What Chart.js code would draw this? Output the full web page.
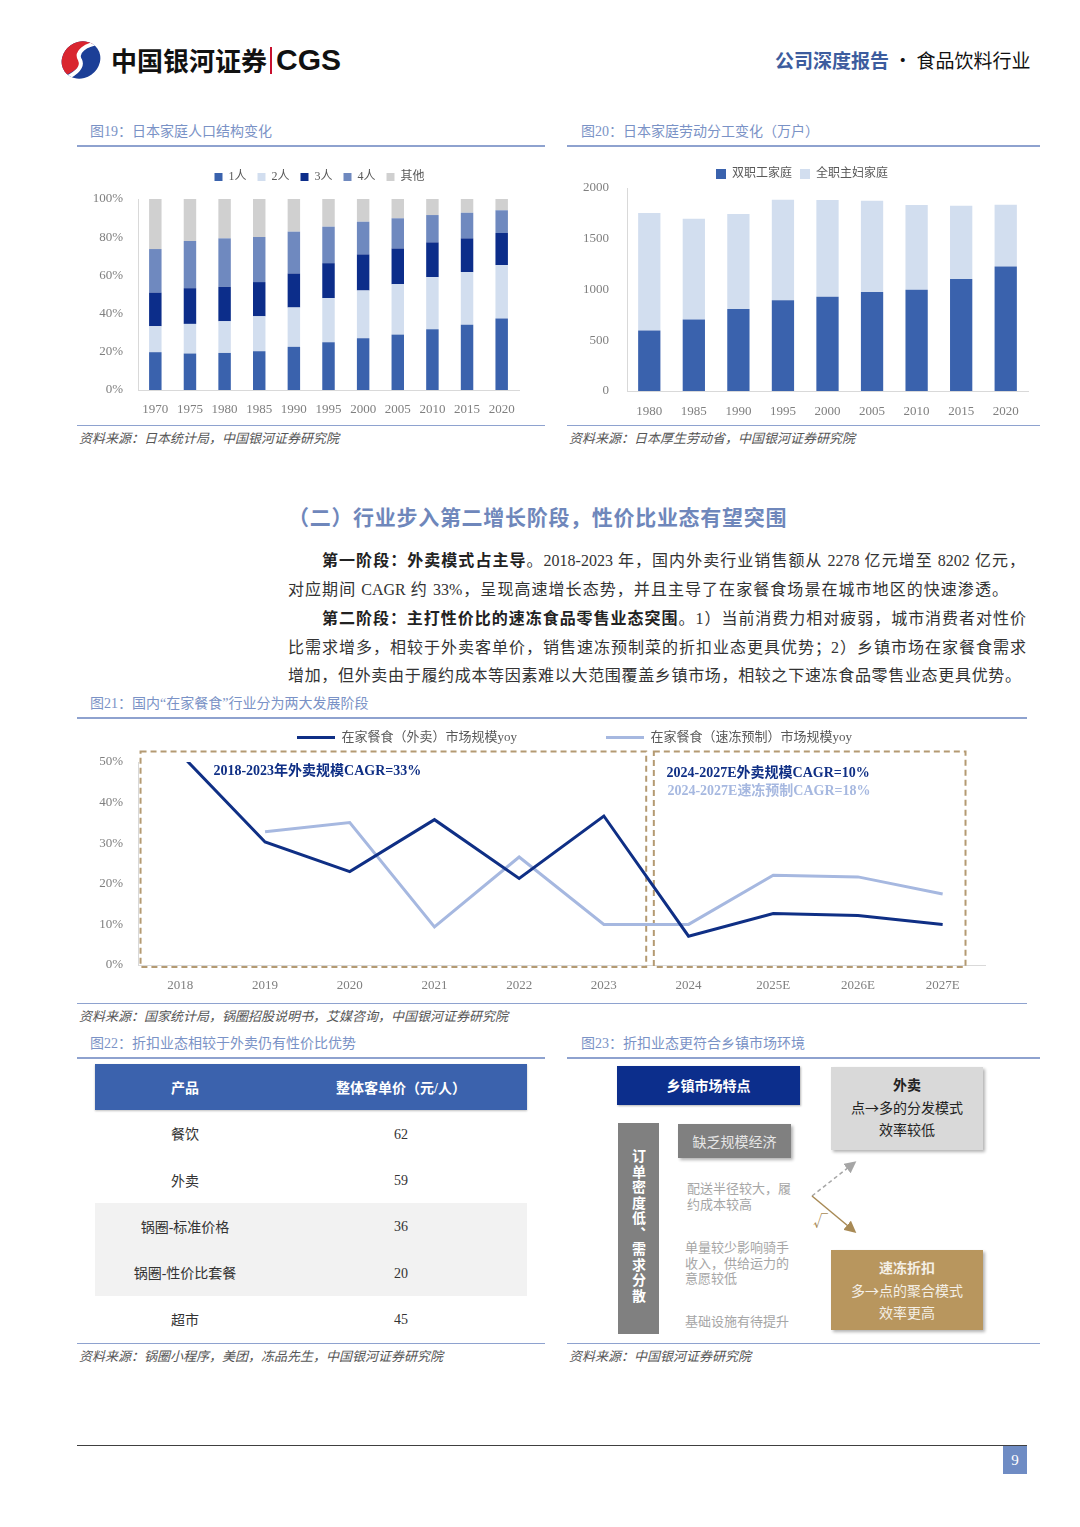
<!DOCTYPE html>
<html>
<head>
<meta charset="utf-8">
<script src="https://cdn.jsdelivr.net/npm/chart.js@4.4.1/dist/chart.umd.min.js"></script>
<style>
  body { margin:0; width:1080px; height:1527px; position:relative; background:#fff;
         font-family:"Liberation Serif","Noto Sans CJK SC",serif; color:#333; overflow:hidden; }
  .abs { position:absolute; white-space:nowrap; }
  .figt { font-size:14px; line-height:18px; color:#7a92c6; }
  .rule { height:2px; background:#8ea2cf; }
  .rule1 { height:1px; background:#8ea2cf; }
  .src { font-size:13px; line-height:18px; color:#555; font-style:italic; }
  .para { font-size:16px; line-height:28px; height:28px; color:#333; text-align:justify; text-align-last:justify; }
  .para b { font-weight:bold; color:#222; }
  canvas { position:absolute; }
  .tbl { position:absolute; left:95px; top:1064px; width:432px; }
  .tbl .row { display:flex; height:46.4px; align-items:center; font-size:14px; color:#333; }
  .tbl .c1 { width:180px; text-align:center; }
  .tbl .c2 { width:252px; text-align:center; padding-top:3px; }
  .tbl .head .c2 { padding-top:0; }
  .tbl .head { background:#3b62ad; color:#fff; font-weight:bold; height:46px; box-shadow:0 1px 2px rgba(0,0,0,.25); }
  .tbl .band { background:#f2f2f2; }
  .box { position:absolute; box-sizing:border-box; text-align:center; font-family:"Noto Sans CJK SC",sans-serif; }
  .gtx { font-size:13px; line-height:15.5px; color:#a6a6a6; }
</style>
</head>
<body>

<!-- header -->
<svg class="abs" style="left:58px;top:38px" width="46" height="44" viewBox="0 0 46 44">
  <defs><clipPath id="lg"><ellipse cx="23" cy="22" rx="20" ry="18" transform="rotate(-35 23 22)"/></clipPath></defs>
  <g clip-path="url(#lg)">
    <rect width="46" height="44" fill="#1c3f97"/>
    <path d="M0 0 H46 V5 C30 4,18 13,22 22 C25 30,12 35,0 41 Z" fill="#d9252f"/>
    <path d="M42 5 C28 6,17 14,22 22 C26 30,15 38,3 42" stroke="#fff" stroke-width="4" fill="none"/>
  </g>
</svg>
<div class="abs" style="left:111px;top:44px;font-family:'Noto Sans CJK SC';font-weight:bold;font-size:26px;line-height:32px;color:#111">中国银河证券</div>
<div class="abs" style="left:270px;top:47px;width:2px;height:27px;background:#c8102e"></div>
<div class="abs" style="left:276px;top:42px;font-family:'Liberation Sans';font-weight:bold;font-size:30px;line-height:36px;color:#111">CGS</div>
<div class="abs" style="left:775px;top:47px;font-family:'Noto Sans CJK SC';font-size:19px;line-height:26px;color:#111">
  <span style="color:#3c5c9e;font-weight:bold">公司深度报告</span>&nbsp;·&nbsp;食品饮料行业</div>

<!-- fig 19 / 20 -->
<div class="abs figt" style="left:90px;top:123px">图19：日本家庭人口结构变化</div>
<div class="abs rule" style="left:77px;top:145px;width:468px"></div>
<div class="abs figt" style="left:581px;top:123px">图20：日本家庭劳动分工变化（万户）</div>
<div class="abs rule" style="left:567px;top:145px;width:473px"></div>
<canvas id="c19" width="460" height="265" style="left:80px;top:160px;width:460px;height:265px"></canvas>
<canvas id="c20" width="470" height="265" style="left:570px;top:160px;width:470px;height:265px"></canvas>
<div class="abs rule1" style="left:77px;top:425px;width:468px"></div>
<div class="abs rule1" style="left:567px;top:425px;width:473px"></div>
<div class="abs src" style="left:79px;top:430px">资料来源：日本统计局，中国银河证券研究院</div>
<div class="abs src" style="left:569px;top:430px">资料来源：日本厚生劳动省，中国银河证券研究院</div>

<!-- section text -->
<div class="abs" style="left:288px;top:503px;font-family:'Noto Sans CJK SC';font-weight:bold;font-size:21px;line-height:26px;letter-spacing:0.7px;color:#6f87bb">（二）行业步入第二增长阶段，性价比业态有望突围</div>
<div class="abs para" style="left:322px;top:547px;width:703px"><b>第一阶段：外卖模式占主导</b>。2018-2023 年，国内外卖行业销售额从 2278 亿元增至 8202 亿元，</div>
<div class="abs para" style="left:288px;top:576px;width:720px">对应期间 CAGR 约 33%，呈现高速增长态势，并且主导了在家餐食场景在城市地区的快速渗透。</div>
<div class="abs para" style="left:322px;top:605px;width:704px"><b>第二阶段：主打性价比的速冻食品零售业态突围</b>。1）当前消费力相对疲弱，城市消费者对性价</div>
<div class="abs para" style="left:288px;top:634px;width:738px">比需求增多，相较于外卖客单价，销售速冻预制菜的折扣业态更具优势；2）乡镇市场在家餐食需求</div>
<div class="abs para" style="left:288px;top:662px;width:733px">增加，但外卖由于履约成本等因素难以大范围覆盖乡镇市场，相较之下速冻食品零售业态更具优势。</div>

<!-- fig 21 -->
<div class="abs figt" style="left:90px;top:695px">图21：国内“在家餐食”行业分为两大发展阶段</div>
<div class="abs rule" style="left:77px;top:717px;width:950px"></div>
<canvas id="c21" width="920" height="280" style="left:80px;top:720px;width:920px;height:280px"></canvas>
<div class="abs rule1" style="left:77px;top:1003px;width:950px"></div>
<div class="abs src" style="left:79px;top:1008px">资料来源：国家统计局，锅圈招股说明书，艾媒咨询，中国银河证券研究院</div>

<!-- fig 22 -->
<div class="abs figt" style="left:90px;top:1035px">图22：折扣业态相较于外卖仍有性价比优势</div>
<div class="abs rule" style="left:77px;top:1057px;width:468px"></div>
<div class="tbl" id="tbl"></div>
<div class="abs rule1" style="left:77px;top:1343px;width:468px"></div>
<div class="abs src" style="left:79px;top:1348px">资料来源：锅圈小程序，美团，冻品先生，中国银河证券研究院</div>

<!-- fig 23 -->
<div class="abs figt" style="left:581px;top:1035px">图23：折扣业态更符合乡镇市场环境</div>
<div class="abs rule" style="left:567px;top:1057px;width:473px"></div>
<div class="box" style="left:617px;top:1066px;width:183px;height:39px;background:#0c2e8c;color:#fff;font-weight:bold;font-size:14px;line-height:39px;box-shadow:1px 1px 2px rgba(0,0,0,.3)">乡镇市场特点</div>
<div class="box" style="left:618px;top:1123px;width:41px;height:211px;background:#808080;color:#fff;font-weight:bold;font-size:14px;padding-top:26px;">
  <div style="writing-mode:vertical-rl;margin:0 auto;letter-spacing:1.5px;line-height:41px">订单密度低、需求分散</div></div>
<div class="box" style="left:678px;top:1124px;width:113px;height:34px;background:#808080;color:#e6e6e6;font-size:14px;line-height:34px;box-shadow:2px 2px 3px rgba(0,0,0,.3)">缺乏规模经济</div>
<div class="abs gtx" style="left:687px;top:1181px">配送半径较大，履<br>约成本较高</div>
<div class="abs gtx" style="left:685px;top:1240px">单量较少影响骑手<br>收入，供给运力的<br>意愿较低</div>
<div class="abs gtx" style="left:685px;top:1314px">基础设施有待提升</div>
<div class="box" style="left:831px;top:1067px;width:152px;height:83px;background:#d9d9d9;color:#222;font-size:14px;line-height:22.5px;padding-top:6px;box-shadow:2px 2px 3px rgba(0,0,0,.3)"><b>外卖</b><br>点→多的分发模式<br>效率较低</div>
<div class="box" style="left:831px;top:1250px;width:152px;height:80px;background:#b8965e;color:#f4efe6;font-size:14px;line-height:22.5px;padding-top:6px;box-shadow:2px 2px 3px rgba(0,0,0,.3)"><b>速冻折扣</b><br>多→点的聚合模式<br>效率更高</div>
<svg class="abs" style="left:800px;top:1150px" width="70" height="95">
  <defs>
    <marker id="ag" markerWidth="8" markerHeight="8" refX="6" refY="4" orient="auto"><path d="M0 0 L8 4 L0 8 Z" fill="#a6a6a6"/></marker>
    <marker id="ab" markerWidth="8" markerHeight="8" refX="6" refY="4" orient="auto"><path d="M0 0 L8 4 L0 8 Z" fill="#a88a55"/></marker>
  </defs>
  <line x1="12" y1="46" x2="54" y2="13" stroke="#a6a6a6" stroke-width="1.5" stroke-dasharray="4,3" marker-end="url(#ag)"/>
  <line x1="12" y1="46" x2="54" y2="81" stroke="#a88a55" stroke-width="1.5" marker-end="url(#ab)"/>
</svg>
<div class="abs" style="left:813px;top:1210px;font-family:'Noto Sans CJK SC';font-size:15px;line-height:20px;color:#a88a55">√</div>
<div class="abs rule1" style="left:567px;top:1343px;width:473px"></div>
<div class="abs src" style="left:569px;top:1348px">资料来源：中国银河证券研究院</div>

<!-- footer -->
<div class="abs" style="left:77px;top:1445px;width:950px;height:1px;background:#404040"></div>
<div class="abs" style="left:1003px;top:1446px;width:24px;height:28px;background:#6f8cc4;color:#fff;font-size:15px;line-height:28px;text-align:center">9</div>

<script>
// 图19 日本家庭人口结构 (%)
const popYears = ['1970','1975','1980','1985','1990','1995','2000','2005','2010','2015','2020'];
const pop1 = [19.8, 19.1, 19.4, 20.3, 22.6, 25.0, 27.1, 29.0, 31.8, 34.1, 37.4];
const pop2 = [13.6, 15.5, 16.6, 18.3, 20.6, 23.1, 25.0, 26.4, 27.3, 27.6, 28.0];
const pop3 = [17.6, 18.7, 18.0, 17.9, 17.8, 18.3, 18.9, 18.7, 18.2, 17.7, 16.8];
const pop4 = [22.8, 24.7, 25.4, 23.6, 21.9, 19.1, 17.1, 15.8, 14.3, 13.4, 11.9];
const popOther = [26.2, 22.0, 20.6, 19.9, 17.1, 14.5, 11.9, 10.1, 8.4, 7.2, 5.9];
const popTicks = [0, 20, 40, 60, 80, 100];

// 图20 日本家庭劳动分工 (万户)
const labourYears = ['1980','1985','1990','1995','2000','2005','2010','2015','2020'];
const dualIncome = [596, 705, 807, 893, 929, 975, 998, 1104, 1226];
const housewife = [1157, 992, 936, 992, 952, 900, 834, 721, 609];

// 图21 在家餐食市场规模 yoy (%)
const yoyYears = ['2018','2019','2020','2021','2022','2023','2024','2025E','2026E','2027E'];
const takeoutYoy = [52.0, 30.3, 23.0, 35.8, 21.3, 36.7, 7.1, 12.7, 12.2, 10.0];
const frozenYoy = [null, 32.8, 35.1, 9.4, 26.6, 10.0, 10.0, 22.1, 21.7, 17.5];
const yoyNotes = ['2018-2023年外卖规模CAGR=33%', '2024-2027E外卖规模CAGR=10%', '2024-2027E速冻预制CAGR=18%'];

// 图22 客单价
const products = ['餐饮', '外卖', '锅圈-标准价格', '锅圈-性价比套餐', '超市'];
const unitPrice = [62, 59, 36, 20, 45];

Chart.defaults.font.family = '"Liberation Serif", "Noto Sans CJK SC", serif';
Chart.defaults.color = '#7f7f7f';
Chart.defaults.animation = false;
Chart.defaults.responsive = false;
Chart.defaults.devicePixelRatio = 1;
Chart.defaults.plugins.tooltip.enabled = false;

// legend height fixed, optional sideways shift
function legendBox(h, dx) {
  return {
    id: 'legendBox',
    beforeLayout(chart) {
      const lg = chart.legend;
      if (lg && !lg._patched) {
        const fit = lg.fit.bind(lg);
        lg.fit = function () { fit(); this.height = h; };
        lg._patched = true;
      }
    },
    afterLayout(chart) {
      if (dx) { chart.legend.left += dx; chart.legend.right += dx; }
    }
  };
}

function axis(extra) {
  return Object.assign({
    grid: { display: false, drawTicks: false },
    border: { display: true, color: '#d9d9d9', width: 1 },
    ticks: { color: '#7f7f7f', font: { size: 13 }, maxRotation: 0, autoSkip: false }
  }, extra);
}

// fig 19
new Chart(document.getElementById('c19'), {
  type: 'bar',
  data: {
    labels: popYears,
    datasets: [
      { label: '1人', data: pop1, backgroundColor: '#3a62ad' },
      { label: '2人', data: pop2, backgroundColor: '#d2deef' },
      { label: '3人', data: pop3, backgroundColor: '#0c2d8a' },
      { label: '4人', data: pop4, backgroundColor: '#6f89bf' },
      { label: '其他', data: popOther, backgroundColor: '#d0d0d0' }
    ]
  },
  options: {
    layout: { padding: { right: 21 } },
    datasets: { bar: { barPercentage: 0.36, categoryPercentage: 1 } },
    scales: {
      x: axis({ stacked: true, ticks: { color: '#7f7f7f', font: { size: 13 }, padding: 12, maxRotation: 0, autoSkip: false },
                afterFit: s => { s.height = 35; } }),
      y: axis({ stacked: true, min: 0, max: 100,
                ticks: { color: '#7f7f7f', font: { size: 13 }, padding: 15, stepSize: 20, callback: v => popTicks.includes(v) ? v + '%' : '' },
                afterFit: s => { s.width = 58; } })
    },
    plugins: {
      legend: { labels: { boxWidth: 8, boxHeight: 8, padding: 11, color: '#595959', font: { size: 12 } } }
    }
  },
  plugins: [legendBox(39, 20)]
});

// fig 20
new Chart(document.getElementById('c20'), {
  type: 'bar',
  data: {
    labels: labourYears,
    datasets: [
      { label: '双职工家庭', data: dualIncome, backgroundColor: '#3a62ad' },
      { label: '全职主妇家庭', data: housewife, backgroundColor: '#d2deef' }
    ]
  },
  options: {
    layout: { padding: { right: 12 } },
    datasets: { bar: { barPercentage: 0.5, categoryPercentage: 1 } },
    scales: {
      x: axis({ stacked: true, ticks: { color: '#7f7f7f', font: { size: 13 }, padding: 13, maxRotation: 0, autoSkip: false },
                afterFit: s => { s.height = 34; } }),
      y: axis({ stacked: true, min: 0, max: 2000,
                ticks: { color: '#7f7f7f', font: { size: 13 }, padding: 18, stepSize: 500, callback: v => String(v) },
                afterFit: s => { s.width = 57; } })
    },
    plugins: {
      legend: { labels: { boxWidth: 10, boxHeight: 10, padding: 8, color: '#595959', font: { size: 12 } } }
    }
  },
  plugins: [legendBox(28, 3)]
});

// fig 21 dashed frames + notes
const framesPlugin = {
  id: 'frames',
  beforeDatasetsDraw(chart) {
    const x = chart.scales.x, y = chart.scales.y, ctx = chart.ctx;
    const step = x.getPixelForValue(1) - x.getPixelForValue(0);
    const px = i => x.getPixelForValue(0) + i * step;
    const top = y.getPixelForValue(52.6), bot = y.getPixelForValue(0) + 2;
    ctx.save();
    ctx.strokeStyle = '#b49a72';
    ctx.lineWidth = 2;
    ctx.setLineDash([6, 4]);
    ctx.strokeRect(px(-0.47), top, px(5.5) - px(-0.47), bot - top);
    ctx.strokeRect(px(5.59), top, px(9.27) - px(5.59), bot - top);
    ctx.restore();
  },
  afterDatasetsDraw(chart) {
    const x = chart.scales.x, y = chart.scales.y, ctx = chart.ctx;
    const step = x.getPixelForValue(1) - x.getPixelForValue(0);
    const px = i => x.getPixelForValue(0) + i * step;
    ctx.save();
    ctx.font = 'bold 14px "Liberation Serif", "Noto Sans CJK SC", serif';
    ctx.textBaseline = 'middle';
    ctx.fillStyle = '#0f2f85';
    ctx.fillText(yoyNotes[0], px(0.39), y.getPixelForValue(47.6));
    ctx.fillText(yoyNotes[1], px(5.74), y.getPixelForValue(47.2));
    ctx.fillStyle = '#a6b8e0';
    ctx.fillText(yoyNotes[2], px(5.75), y.getPixelForValue(42.8));
    ctx.restore();
  }
};

new Chart(document.getElementById('c21'), {
  type: 'line',
  data: {
    labels: yoyYears,
    datasets: [
      { label: '在家餐食（外卖）市场规模yoy', data: takeoutYoy, borderColor: '#0f2f85', backgroundColor: '#0f2f85',
        borderWidth: 3, pointRadius: 0, tension: 0 },
      { label: '在家餐食（速冻预制）市场规模yoy', data: frozenYoy, borderColor: '#a6b8e0', backgroundColor: '#a6b8e0',
        borderWidth: 3, pointRadius: 0, tension: 0 }
    ]
  },
  options: {
    layout: { padding: { right: 15 } },
    scales: {
      x: axis({ offset: true, ticks: { color: '#7f7f7f', font: { size: 13 }, padding: 13, maxRotation: 0, autoSkip: false },
                afterFit: s => { s.height = 35; } }),
      y: axis({ min: 0, max: 50,
                ticks: { color: '#7f7f7f', font: { size: 13 }, padding: 15, stepSize: 10, callback: v => v + '%' },
                afterFit: s => { s.width = 58; } })
    },
    plugins: {
      legend: {
        labels: {
          boxWidth: 38, boxHeight: 3, padding: 11, color: '#595959', font: { size: 13 },
          generateLabels(chart) {
            const items = Chart.defaults.plugins.legend.labels.generateLabels(chart);
            items[0].text += '\u3000\u3000\u3000\u3000\u3000\u3000';
            items.forEach(it => { it.lineWidth = 0; });
            return items;
          }
        }
      }
    }
  },
  plugins: [legendBox(42, 42), framesPlugin]
});

// fig 22 table
const tbl = document.getElementById('tbl');
let html = '<div class="row head"><div class="c1">产品</div><div class="c2">整体客单价（元/人）</div></div>';
products.forEach((p, i) => {
  const band = (i === 2 || i === 3) ? ' band' : '';
  html += '<div class="row' + band + '"><div class="c1">' + p + '</div><div class="c2">' + unitPrice[i] + '</div></div>';
});
tbl.innerHTML = html;
</script>
</body>
</html>
